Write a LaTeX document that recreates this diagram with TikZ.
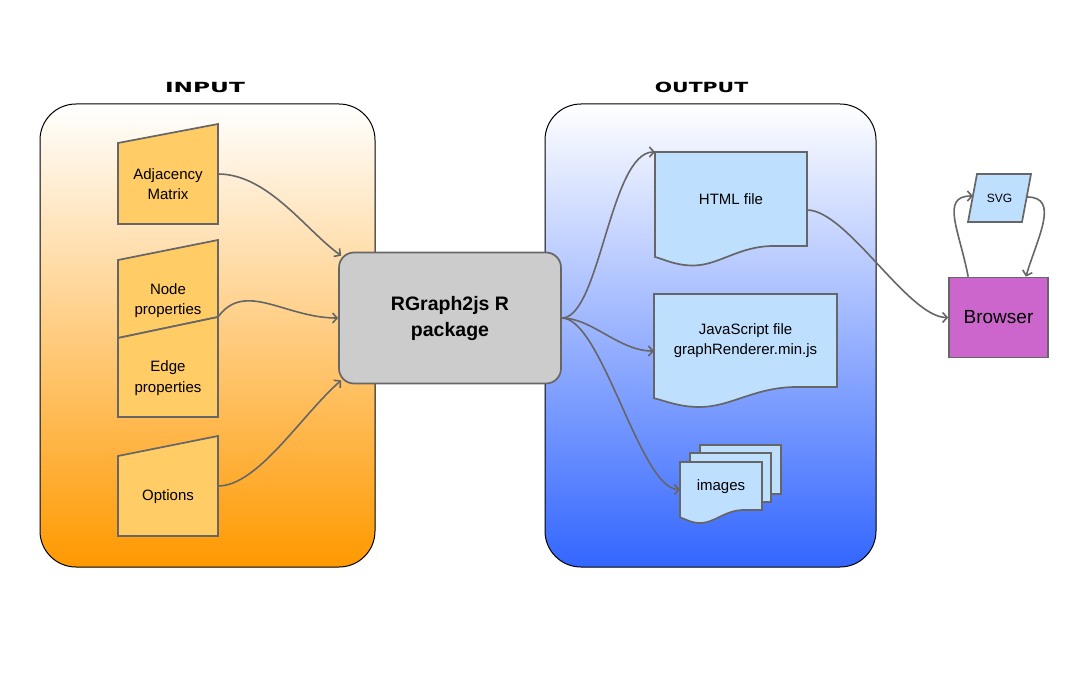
\documentclass[tikz,border=0pt]{standalone}
\usepackage{fontspec}
\setmainfont{Liberation Sans}
\newfontfamily\titlefont{DejaVu Sans}
\usetikzlibrary{arrows.meta,calc}
\definecolor{lgray}{HTML}{666666}
\definecolor{inorange}{HTML}{FF9900}
\definecolor{outblue}{HTML}{3366FF}
\definecolor{infill}{HTML}{FFCC66}
\definecolor{docfill}{HTML}{BFDFFF}
\definecolor{rgfill}{HTML}{CCCCCC}
\definecolor{brfill}{HTML}{CC66CC}
% style, L, R, T, B, depth
\newcommand\docoutline[6]{%
  \path[#1] (#2,#4) -- (#3,#4) -- (#3,#5) -- ({#3-0.22*(#3-#2)},#5)
    .. controls ({#3-0.45*(#3-#2)},#5) and ({#2+0.42*(#3-#2)},{#5+#6}) .. ({#2+0.25*(#3-#2)},{#5+#6})
    .. controls ({#2+0.14*(#3-#2)},{#5+#6}) and ({#2+0.07*(#3-#2)},{#5+0.72*#6}) .. (#2,{#5+0.56*#6}) -- cycle;}
\begin{document}
\begin{tikzpicture}[x=1pt,y=-1pt,
  panel/.style={draw=black,line width=1pt,rounded corners=36pt},
  bb/.style={inner sep=0pt,outer sep=0pt,draw=none},
  txt/.style={inner sep=0pt,align=center,font=\fontsize{15}{20.5}\selectfont},
  inshape/.style={draw=lgray,fill=infill,line width=1.7pt},
  docshape/.style={draw=lgray,fill=docfill,line width=1.7pt},
  conn/.style={draw=lgray,line width=1.6pt,-{Straight Barb[length=4.5pt,width=10pt]}},
  title/.style={inner sep=0pt,font=\titlefont\bfseries\fontsize{14}{16}\selectfont}]
\useasboundingbox[fill=white] (0,0) rectangle (1078,674);

% panels
\path[panel,top color=white,bottom color=inorange] (40,104) rectangle (375,567);
\path[panel,top color=white,bottom color=outblue] (545,104) rectangle (876,567);
\node[title] (tin) at (205,87.5) {\scalebox{1.66}[1]{INPUT}};
\node[title] (tout) at (701.5,87.5) {\scalebox{1.46}[1]{OUTPUT}};

% input shapes
\node[bb,minimum width=100pt,minimum height=100pt] (adj) at (168,174) {};
\path[inshape] (adj.south west) -- (adj.south east) -- (adj.north east) -- ($(adj.north west)+(0,19)$) -- cycle;
\node[txt] (adjt) at (168,184) {Adjacency\\Matrix};

\node[bb,minimum width=100pt,minimum height=77pt] (np) at (168,278.5) {};
\node[bb,minimum width=100pt,minimum height=100pt] (ep) at (168,367) {};
\path[inshape] ($(np.north west)+(0,20)$) -- (np.north east) -- (np.south east) -- ($(ep.north west)+(0,21)$) -- cycle;
\path[inshape] ($(ep.north west)+(0,21)$) -- (ep.north east) -- (ep.south east) -- (ep.south west) -- cycle;
\node[txt] (npt) at (168,300.5) {Node\\properties};
\node[txt] (ept) at (168,378) {Edge\\properties};

\node[bb,minimum width=100pt,minimum height=100pt] (opt) at (168,486) {};
\path[inshape] (opt.south west) -- (opt.south east) -- (opt.north east) -- ($(opt.north west)+(0,20)$) -- cycle;
\node[txt] (optt) at (168,497) {Options};

% package
\node[draw=lgray,fill=rgfill,line width=1.7pt,rounded corners=15pt,minimum width=222pt,minimum height=131pt,inner sep=0pt,align=center,font=\bfseries\fontsize{19.5}{26}\selectfont] (rg) at (450,318) {RGraph2js R\\package};

% output documents
\docoutline{docshape}{655}{807}{152}{246}{19.5}
\node[bb,txt,minimum width=152pt,minimum height=94pt] (html) at (731,199) {HTML file};

\docoutline{docshape}{654}{837}{294}{387}{20}
\node[bb,txt,minimum width=183pt,minimum height=93pt] (js) at (745.5,340.5) {JavaScript file\\graphRenderer.min.js};

\path[docshape] (700,445) rectangle (781,494);
\path[docshape] (690,453) rectangle (771,502);
\docoutline{docshape}{680}{762}{462}{510}{13}
\node[bb,txt,minimum width=82pt,minimum height=48pt] (img) at (721,486.5) {images};

% browser and svg
\node[draw=lgray,fill=brfill,line width=1.7pt,minimum width=99pt,minimum height=80pt,inner sep=0pt,font=\fontsize{19}{22}\selectfont] (br) at (998.5,317.5) {Browser};
\node[bb,minimum width=63pt,minimum height=48pt] (svg) at (999.5,198) {};
\path[docshape] ($(svg.north west)+(9,0)$) -- (svg.north east) -- ($(svg.south east)+(-9,0)$) -- (svg.south west) -- cycle;
\node[inner sep=0pt,font=\fontsize{12}{14}\selectfont] (svgt) at (svg.center) {SVG};

% connectors
\draw[conn] (adj.east) .. controls +(50,0) and +(-35,-25) .. ($(rg.north west)+(3,4)$);
\draw[conn] (np.south east) .. controls +(27,-37) and +(-53,0) .. (rg.west);
\draw[conn] (opt.east) .. controls +(40,0) and +(-40,35) .. ($(rg.south west)+(3,-4)$);
\draw[conn] (rg.east) .. controls +(38,0) and +(-45,0) .. (html.north west);
\draw[conn] (rg.east) .. controls +(30,0) and +(-35,0) .. ($(js.west)+(0,10.5)$);
\draw[conn] (rg.east) .. controls +(40,0) and +(-40,0) .. ($(img.west)+(0,3)$);
\draw[conn] ($(html.east)+(0,11)$) .. controls +(40,0) and +(-40,0) .. (br.west);
\draw[conn] ($(br.north west)+(20,0)$) .. controls +(-9,-47) and +(-33,0) .. ($(svg.west)+(5,-2)$);
\draw[conn] ($(svg.east)+(-4,-1)$) .. controls +(33,0) and +(12,-40) .. ($(br.north east)+(-23,0)$);
\end{tikzpicture}
\end{document}
